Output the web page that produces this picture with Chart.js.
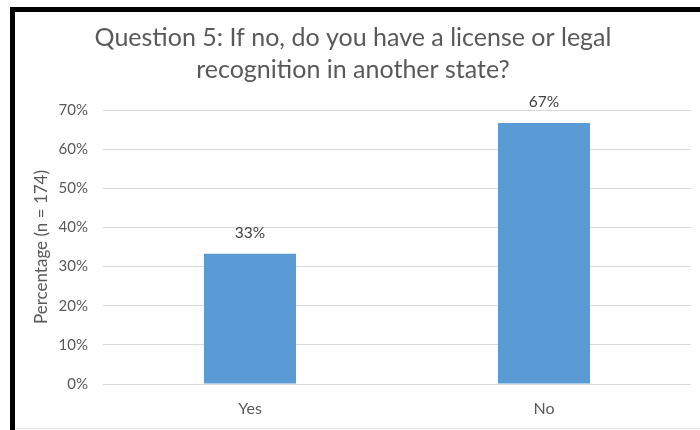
<!DOCTYPE html>
<html>
<head>
<meta charset="utf-8">
<script src="https://cdn.jsdelivr.net/npm/chart.js@4.4.1/dist/chart.umd.min.js"></script>
<style>
  html, body { margin: 0; padding: 0; background: #fff; }
  #wrap { position: relative; width: 700px; height: 430px; }
  #topLine { position: absolute; left: 10px; top: 7px; width: 690px; height: 5px; background: #000; }
  #leftLine { position: absolute; left: 10px; top: 7px; width: 5px; height: 423px; background: #000; }
  #bottomLine { position: absolute; left: 15px; top: 428px; width: 685px; height: 1px; background: #e6e6e6; }
</style>
</head>
<body>
<div id="wrap">
  <canvas id="chart" width="700" height="430"></canvas>
  <div id="topLine"></div>
  <div id="leftLine"></div>
  <div id="bottomLine"></div>
</div>
<script>
// data
const categories = ["Yes", "No"];
const percentages = [33.3, 66.7];
const valueLabels = ["33%", "67%"];
const titleLines = ["Question 5: If no, do you have a license or legal", "recognition in another state?"];
const yAxisTitle = "Percentage (n = 174)";

const FONT = "Lato, 'Open Sans', sans-serif";

// labels above the bars
const barLabels = {
  id: "barLabels",
  afterDatasetsDraw(chart) {
    const ctx = chart.ctx;
    const meta = chart.getDatasetMeta(0);
    ctx.save();
    ctx.font = "15.5px " + FONT;
    ctx.fillStyle = "#404040";
    ctx.textAlign = "center";
    ctx.textBaseline = "middle";
    meta.data.forEach((bar, i) => {
      ctx.fillText(valueLabels[i], bar.x, bar.y - 21);
    });
    ctx.restore();
  }
};

new Chart(document.getElementById("chart"), {
  type: "bar",
  data: {
    labels: categories,
    datasets: [{
      data: percentages,
      backgroundColor: "#5B9BD5",
      borderWidth: 0,
      categoryPercentage: 1,
      barPercentage: 0.313
    }]
  },
  options: {
    responsive: false,
    animation: false,
    layout: { padding: { left: 15, right: 9, top: 0, bottom: 0 } },
    plugins: {
      legend: { display: false },
      tooltip: { enabled: false },
      title: {
        display: true,
        text: titleLines,
        color: "#595959",
        font: { family: FONT, size: 25, weight: "normal", lineHeight: "32px" },
        padding: { top: 22, bottom: 24 }
      }
    },
    scales: {
      x: {
        afterFit(scale) { scale.height = 46; },
        grid: { display: false, drawTicks: false },
        border: { display: false },
        ticks: { color: "#595959", font: { family: FONT, size: 16 }, padding: 15 }
      },
      y: {
        min: 0,
        max: 70,
        afterFit(scale) { scale.width = 88; },
        grid: { color: "#d9d9d9", drawTicks: false },
        border: { display: false },
        ticks: {
          stepSize: 10,
          color: "#595959",
          font: { family: FONT, size: 15 },
          padding: 15,
          callback: v => v + "%"
        },
        title: {
          display: true,
          text: yAxisTitle,
          color: "#595959",
          font: { family: FONT, size: 17 },
          padding: { top: 16, bottom: 4 }
        }
      }
    }
  },
  plugins: [barLabels]
});
</script>
</body>
</html>
